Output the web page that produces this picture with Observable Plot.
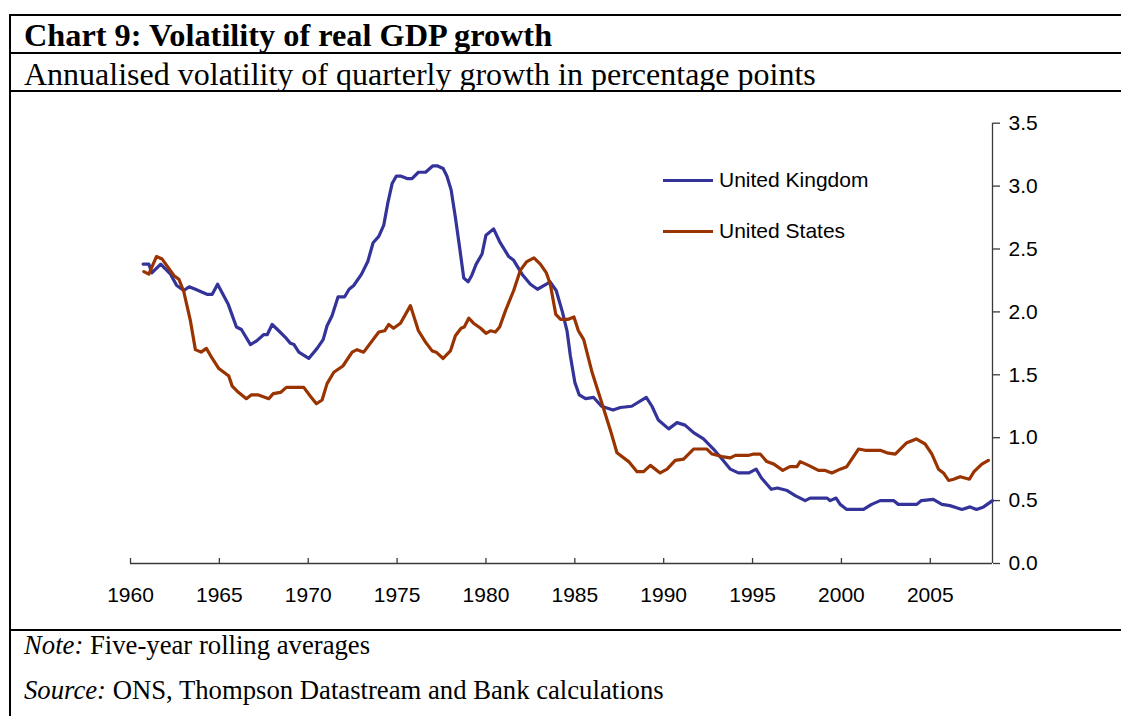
<!DOCTYPE html>
<html>
<head>
<meta charset="utf-8">
<script src="https://cdn.jsdelivr.net/npm/d3@7"></script>
<script src="https://cdn.jsdelivr.net/npm/@observablehq/plot@0.6"></script>
<style>
  html, body { margin: 0; padding: 0; background: #fff; }
  body { width: 1121px; height: 716px; position: relative; overflow: hidden; }
  .hline { position: absolute; left: 9px; right: 0; height: 2px; background: #000; }
  .vline { position: absolute; left: 9px; top: 15px; bottom: 0; width: 2px; background: #000; }
  .serif { position: absolute; left: 24px; font-family: "Liberation Serif", "Times New Roman", serif; color: #000; white-space: nowrap; }
  #title { top: 15px; height: 37px; line-height: 40px; font-size: 32.3px; font-weight: bold; }
  #subtitle { top: 54px; height: 37px; line-height: 40px; font-size: 32px; }
  #note { top: 631px; line-height: 28px; font-size: 26.7px; }
  #source { top: 676px; line-height: 28px; font-size: 26.7px; }
  #chart { position: absolute; left: 10px; top: 92px; }
  .leg { position: absolute; font-family: "Liberation Sans", Arial, sans-serif; font-size: 21px; color: #000; white-space: nowrap; }
  .legline { position: absolute; width: 50px; height: 3px; }
</style>
</head>
<body>
<div class="hline" style="top:14px"></div>
<div class="hline" style="top:52px"></div>
<div class="hline" style="top:90px"></div>
<div class="hline" style="top:629px"></div>
<div class="vline"></div>
<div id="title" class="serif">Chart 9: Volatility of real GDP growth</div>
<div id="subtitle" class="serif">Annualised volatility of quarterly growth in percentage points</div>
<div id="chart"></div>
<div id="note" class="serif"><i>Note:</i> Five-year rolling averages</div>
<div id="source" class="serif"><i>Source:</i> ONS, Thompson Datastream and Bank calculations</div>
<div id="legend"></div>
<script>
// ---- Data ----
const seriesNames = ["United Kingdom", "United States"];
const seriesColors = ["#333399", "#993300"];
const xTicks = [1960, 1965, 1970, 1975, 1980, 1985, 1990, 1995, 2000, 2005];
const yTicks = [0, 0.5, 1.0, 1.5, 2.0, 2.5, 3.0, 3.5];
const xDomain = [1960, 2008.5];
const yDomain = [0, 3.5];

const ukYears = [1960.71, 1961.03, 1961.2, 1961.7, 1962.25, 1962.6, 1963.0, 1963.3, 1963.65, 1964.3, 1964.6, 1964.9,
  1965.5, 1965.96, 1966.24, 1966.75, 1967.1, 1967.5, 1967.7, 1967.97, 1968.34, 1968.7, 1969.0, 1969.2, 1969.47,
  1970.03, 1970.5, 1970.84, 1971.06, 1971.34, 1971.68, 1972.05, 1972.3, 1972.56, 1973.0, 1973.35, 1973.65, 1973.97,
  1974.25, 1974.47, 1974.72, 1974.96, 1975.19, 1975.56, 1975.84, 1976.2, 1976.6, 1977.0, 1977.28, 1977.59, 1977.8,
  1978.04, 1978.28, 1978.52, 1978.75, 1979.0, 1979.2, 1979.45, 1979.78, 1980.0, 1980.43, 1980.8, 1981.28, 1981.56,
  1982.03, 1982.5, 1982.9, 1983.4, 1983.6, 1983.95, 1984.3, 1984.56, 1984.75, 1985.0, 1985.25, 1985.6, 1986.06,
  1986.5, 1987.15, 1987.56, 1988.2, 1989.02, 1989.34, 1989.7, 1990.28, 1990.75, 1991.2, 1991.68, 1992.24, 1992.8,
  1993.28, 1993.75, 1994.2, 1994.8, 1995.2, 1995.5, 1996.05, 1996.4, 1996.95, 1997.4, 1997.96, 1998.24, 1999.18,
  1999.37, 1999.7, 1999.93, 2000.3, 2001.24, 2001.7, 2002.18, 2002.93, 2003.2, 2004.24, 2004.5, 2005.17, 2005.65,
  2006.1, 2006.78, 2007.24, 2007.6, 2008.0, 2008.5];
const ukValues = [2.38, 2.38, 2.31, 2.38, 2.30, 2.21, 2.17, 2.20, 2.18, 2.14, 2.14, 2.22,
  2.06, 1.88, 1.86, 1.74, 1.77, 1.82, 1.82, 1.90, 1.85, 1.80, 1.75, 1.74, 1.68,
  1.63, 1.71, 1.78, 1.89, 1.97, 2.12, 2.12, 2.18, 2.21, 2.30, 2.40, 2.55, 2.60,
  2.69, 2.86, 3.02, 3.08, 3.08, 3.06, 3.06, 3.11, 3.11, 3.16, 3.16, 3.14, 3.08,
  2.97, 2.75, 2.51, 2.27, 2.24, 2.29, 2.38, 2.46, 2.61, 2.66, 2.55, 2.44, 2.41,
  2.30, 2.22, 2.18, 2.22, 2.24, 2.17, 2.00, 1.85, 1.65, 1.44, 1.34, 1.31, 1.32,
  1.25, 1.22, 1.24, 1.25, 1.32, 1.25, 1.14, 1.07, 1.12, 1.10, 1.04, 0.99, 0.91,
  0.83, 0.75, 0.72, 0.72, 0.75, 0.68, 0.59, 0.60, 0.58, 0.54, 0.50, 0.52, 0.52,
  0.50, 0.52, 0.47, 0.43, 0.43, 0.47, 0.50, 0.50, 0.47, 0.47, 0.50, 0.51, 0.47,
  0.46, 0.43, 0.45, 0.43, 0.45, 0.50];

const usYears = [1960.75, 1961.03, 1961.46, 1961.78, 1962.44, 1962.72, 1963.0, 1963.37, 1963.65, 1963.97, 1964.27,
  1964.6, 1964.97, 1965.53, 1965.72, 1966.0, 1966.52, 1966.79, 1967.2, 1967.78, 1968.03, 1968.44, 1968.77, 1969.75,
  1970.12, 1970.46, 1970.78, 1971.06, 1971.44, 1971.95, 1972.47, 1972.75, 1973.12, 1973.97, 1974.3, 1974.53, 1974.8,
  1975.19, 1975.75, 1976.2, 1976.6, 1976.97, 1977.2, 1977.59, 1978.0, 1978.28, 1978.6, 1978.78, 1979.03, 1979.3,
  1979.7, 1980.0, 1980.25, 1980.53, 1980.77, 1981.1, 1981.56, 1981.93, 1982.3, 1982.7, 1983.06, 1983.4, 1983.62,
  1983.93, 1984.2, 1984.6, 1984.95, 1985.2, 1985.5, 1985.97, 1986.62, 1987.0, 1987.37, 1988.03, 1988.5, 1988.87,
  1989.25, 1989.8, 1990.19, 1990.65, 1991.12, 1991.68, 1992.43, 1992.72, 1993.28, 1993.75, 1994.03, 1994.8, 1995.06,
  1995.43, 1995.8, 1996.2, 1996.7, 1997.1, 1997.5, 1997.68, 1998.15, 1998.71, 1999.09, 1999.46, 1999.93, 2000.3,
  2000.96, 2001.34, 2002.18, 2002.56, 2003.03, 2003.68, 2004.21, 2004.71, 2005.09, 2005.46, 2005.74, 2006.03,
  2006.31, 2006.68, 2007.2, 2007.46, 2007.9, 2008.27];
const usValues = [2.32, 2.30, 2.44, 2.42, 2.29, 2.26, 2.16, 1.93, 1.70, 1.68, 1.71,
  1.63, 1.55, 1.49, 1.41, 1.37, 1.31, 1.34, 1.34, 1.31, 1.35, 1.36, 1.40, 1.40,
  1.33, 1.27, 1.30, 1.43, 1.52, 1.57, 1.68, 1.70, 1.68, 1.84, 1.85, 1.90, 1.87,
  1.91, 2.05, 1.85, 1.76, 1.69, 1.68, 1.63, 1.69, 1.81, 1.87, 1.88, 1.95, 1.91,
  1.87, 1.83, 1.85, 1.84, 1.88, 2.01, 2.17, 2.33, 2.40, 2.43, 2.38, 2.31, 2.22,
  1.98, 1.94, 1.94, 1.96, 1.85, 1.78, 1.52, 1.23, 1.06, 0.88, 0.81, 0.73, 0.73,
  0.78, 0.72, 0.75, 0.82, 0.83, 0.91, 0.91, 0.87, 0.85, 0.84, 0.86, 0.86, 0.87,
  0.87, 0.81, 0.79, 0.74, 0.77, 0.77, 0.81, 0.78, 0.74, 0.74, 0.72, 0.75, 0.77,
  0.91, 0.90, 0.90, 0.88, 0.87, 0.96, 0.99, 0.95, 0.87, 0.75, 0.72, 0.66,
  0.67, 0.69, 0.67, 0.73, 0.79, 0.82];

const uk = ukYears.map((x, i) => ({x, y: ukValues[i]}));
const us = usYears.map((x, i) => ({x, y: usValues[i]}));

const W = 1111, H = 538;
const mTop = 30.7, mBottom = 67, mLeft = 120, mRight = 129;
const innerH = H - mTop - mBottom;
const axisColor = "#3a3a3a";

const chart = Plot.plot({
  width: W, height: H,
  marginTop: mTop, marginBottom: mBottom, marginLeft: mLeft, marginRight: mRight,
  style: {fontFamily: "'Liberation Sans', Arial, sans-serif", fontSize: "21px", color: "#000", background: "transparent", overflow: "visible"},
  x: {domain: xDomain, label: null},
  y: {domain: yDomain, label: null},
  marks: [
    Plot.ruleY([0], {stroke: axisColor, strokeWidth: 1.3}),
    Plot.ruleX([xDomain[1]], {stroke: axisColor, strokeWidth: 1.3}),
    Plot.tickX(xTicks, {x: d => d, insetTop: innerH - 5, stroke: axisColor, strokeWidth: 1.3}),
    Plot.axisX({ticks: xTicks, tickSize: 0, tickPadding: 24, tickFormat: d => String(d), label: null, fill: "#000"}),
    Plot.axisY({ticks: yTicks, anchor: "right", tickSize: 7, tickPadding: 9, tickFormat: d => d.toFixed(1), label: null, stroke: axisColor, strokeWidth: 1.3, fill: "#000"}),
    Plot.line(uk, {x: "x", y: "y", stroke: seriesColors[0], strokeWidth: 3.2, strokeLinejoin: "round"}),
    Plot.line(us, {x: "x", y: "y", stroke: seriesColors[1], strokeWidth: 3.2, strokeLinejoin: "round"})
  ]
});
document.getElementById("chart").appendChild(chart);

// Legend (HTML)
const legend = document.getElementById("legend");
const legTops = [180, 231];
seriesNames.forEach((name, i) => {
  const ln = document.createElement("div");
  ln.className = "legline";
  ln.style.left = "663px";
  ln.style.top = (legTops[i] - 1.5) + "px";
  ln.style.background = seriesColors[i];
  legend.appendChild(ln);
  const tx = document.createElement("div");
  tx.className = "leg";
  tx.style.left = "719px";
  tx.style.top = (legTops[i] - 13) + "px";
  tx.style.lineHeight = "26px";
  tx.textContent = name;
  legend.appendChild(tx);
});
</script>
</body>
</html>
